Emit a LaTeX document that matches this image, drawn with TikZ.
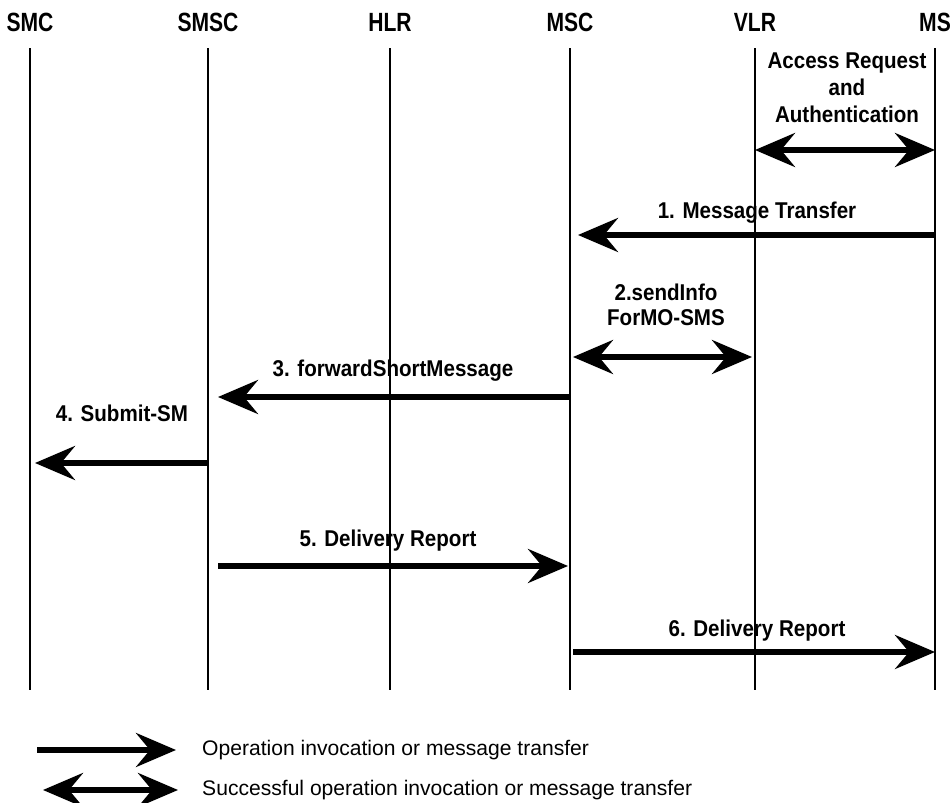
\documentclass[tikz,border=0pt]{standalone}
\usepackage{fontspec}
\setmainfont{Liberation Sans}
\newfontfamily\hdfont[FakeStretch=0.8]{Liberation Sans}
\newfontfamily\lbfont[FakeStretch=0.9]{Liberation Sans}
\usetikzlibrary{arrows.meta}

\tikzset{
	hdr/.style={font=\hdfont\bfseries\fontsize{15}{15}\selectfont},
	life/.style={line width=1.3pt},
	tip/.tip={Stealth[length=8mm,width=6.8mm,inset=2.8mm]},
	msg/.style={line width=1.1mm,-tip},
	ack/.style={line width=1.1mm,tip-tip},
	lbl/.style={font=\lbfont\bfseries\fontsize{13}{14}\selectfont,align=center},
	key/.style={font=\fontsize{12}{14}\selectfont,anchor=west}
}

\begin{document}
\begin{tikzpicture}[x=0.2mm,y=-0.2mm]
	\useasboundingbox (0,0) rectangle (951,802);
	
	% entities and their lifelines
	\foreach \n/\x/\t in {smc/30/SMC, smsc/208/SMSC, hlr/390/HLR, msc/570/MSC, vlr/755/VLR, ms/935/MS}{
		\node[hdr] (\n) at (\x,22) {\t};
		\draw[life] (\x,48) -- (\x,690);
	}
	
	% access request
	\draw[ack] (vlr |- 0,150) -- (ms |- 0,150);
	\node[lbl, font=\lbfont\bfseries\fontsize{13}{15.5}\selectfont] at (847,88) {Access Request\\and\\Authentication};
	
	% 1
	\draw[msg, shorten >=1.6mm] (ms |- 0,235) -- (msc |- 0,235);
	\node[lbl] at (757,213) {1. Message Transfer};
	
	% 2
	\draw[ack, shorten <=0.6mm, shorten >=0.6mm] (msc |- 0,357) -- (vlr |- 0,357);
	\node[lbl] at (666,305) {2.sendInfo\\ForMO-SMS};
	
	% 3
	\draw[msg, shorten >=2mm] (msc |- 0,397) -- (smsc |- 0,397);
	\node[lbl] at (393,371) {3. forwardShortMessage};
	
	% 4
	\draw[msg, shorten >=1mm] (smsc |- 0,463) -- (smc |- 0,463);
	\node[lbl] at (122,413) {4. Submit-SM};
	
	% 5
	\draw[msg, shorten <=2mm, shorten >=0.4mm] (smsc |- 0,566) -- (msc |- 0,566);
	\node[lbl] at (388,541) {5. Delivery Report};
	
	% 6
	\draw[msg, shorten <=0.6mm] (msc |- 0,652) -- (ms |- 0,652);
	\node[lbl] at (757,631) {6. Delivery Report};
	
	% legend
	\coordinate (k1a) at (37,750);
	\coordinate (k1b) at (176,750);
	\coordinate (k2a) at (43,790);
	\coordinate (k2b) at (178,790);
	\draw[msg] (k1a) -- (k1b);
	\draw[ack] (k2a) -- (k2b);
	\node[key] at (196,750) {Operation invocation or message transfer};
	\node[key] at (196,790) {Successful operation invocation or message transfer};
\end{tikzpicture}
\end{document}
